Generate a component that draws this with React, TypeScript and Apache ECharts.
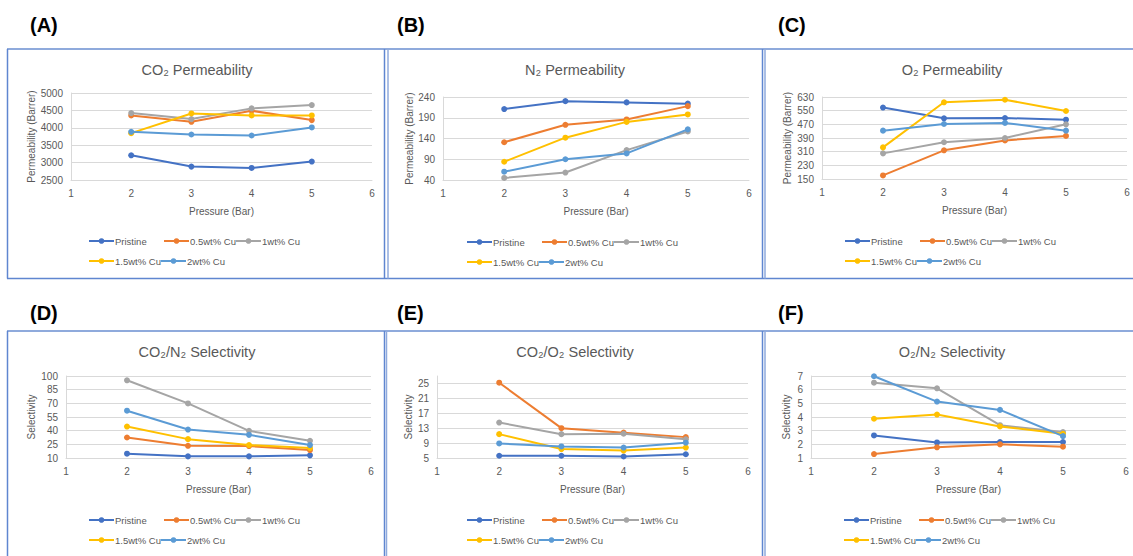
import React, { useEffect, useRef } from "react";
import * as echarts from "echarts";

const seriesNames = ["Pristine", "0.5wt% Cu", "1wt% Cu", "1.5wt% Cu", "2wt% Cu"];
const seriesColors = ["#4472C4", "#ED7D31", "#A5A5A5", "#FFC000", "#5B9BD5"];
const pressures = [2, 3, 4, 5];

const panelLetters = ["(A)", "(B)", "(C)", "(D)", "(E)", "(F)"];
const panelTitles = [
  "CO\u2082 Permeability",
  "N\u2082 Permeability",
  "O\u2082 Permeability",
  "CO\u2082/N\u2082 Selectivity",
  "CO\u2082/O\u2082 Selectivity",
  "O\u2082/N\u2082 Selectivity",
];
const yAxisNames = [
  "Permeability (Barrer)",
  "Permeability (Barrer)",
  "Permeability (Barrer)",
  "Selectivity",
  "Selectivity",
  "Selectivity",
];
const xAxisName = "Pressure (Bar)";
const xMin = 1;
const xMax = 6;
const xInterval = 1;
const yMins = [2500, 40, 150, 10, 5, 1];
const yMaxs = [5000, 240, 630, 100, 27, 7];
const yIntervals = [500, 50, 80, 15, 4, 1];

// series order: Pristine, 0.5wt%, 1wt%, 1.5wt%, 2wt%
const co2Permeability = [
  [3210, 2885, 2846, 3030],
  [4356, 4173, 4490, 4221],
  [4423, 4250, 4558, 4654],
  [3846, 4413, 4356, 4356],
  [3885, 3808, 3779, 4010],
];
const n2Permeability = [
  [211, 230, 227, 224],
  [131, 173, 186, 218],
  [45, 58, 112, 157],
  [84, 142, 180, 198],
  [60, 90, 104, 162],
];
const o2Permeability = [
  [568, 505, 507, 497],
  [171, 318, 376, 402],
  [300, 365, 390, 470],
  [335, 599, 614, 548],
  [433, 472, 478, 433],
];
const co2n2Selectivity = [
  [14.7, 11.8, 11.8, 12.9],
  [32.5, 23.4, 23.1, 18.7],
  [95.3, 69.9, 39.8, 28.9],
  [44.5, 30.7, 24.2, 20.9],
  [61.9, 41.2, 35.4, 24.2],
];
const co2o2Selectivity = [
  [5.6, 5.6, 5.4, 6.0],
  [25.2, 13.0, 11.8, 10.6],
  [14.5, 11.4, 11.5, 10.0],
  [11.4, 7.4, 7.0, 7.8],
  [8.9, 8.1, 7.8, 9.1],
];
const o2n2Selectivity = [
  [2.65, 2.14, 2.17, 2.17],
  [1.29, 1.78, 2.0, 1.83],
  [6.51, 6.1, 3.4, 2.9],
  [3.87, 4.18, 3.31, 2.77],
  [6.98, 5.13, 4.52, 2.6],
];
const panelData = [
  co2Permeability,
  n2Permeability,
  o2Permeability,
  co2n2Selectivity,
  co2o2Selectivity,
  o2n2Selectivity,
];

// ---- layout (pixels) ----
const grids = [
  { left: 71, top: 93, width: 301, height: 87 },
  { left: 443, top: 97, width: 306, height: 83 },
  { left: 822, top: 97, width: 305, height: 82 },
  { left: 66, top: 376, width: 305, height: 82 },
  { left: 437, top: 376, width: 311, height: 82 },
  { left: 811, top: 376, width: 315, height: 82 },
];
const yNameGaps = [35, 29, 30, 30, 23, 20];
const letterPos = [
  [30, 25], [397, 25], [778, 25],
  [30, 313], [397, 313], [778, 313],
];
const titlePos = [
  [197, 70], [575, 70], [952, 70],
  [197, 352], [575, 352], [952, 352],
];
const legendLeft = [88, 466, 844, 88, 466, 843];
const legendRow1 = [242, 243, 242, 521, 521, 521];
const legendRow2 = [262, 263, 262, 541, 541, 541];
const legendColOffset = [0, 75, 147, 0, 72];
const legendRowOf = [0, 0, 0, 1, 1];

const FONT = "'Liberation Sans', Arial, sans-serif";
const TEXT_GRAY = "#595959";
const AXIS_GRAY = "#D9D9D9";

export default function App() {
  const ref = useRef<HTMLDivElement>(null);

  useEffect(() => {
    if (!ref.current) return;
    const chart = echarts.init(ref.current, undefined, { renderer: "svg" });

    const xAxis = grids.map((_, i) => ({
      type: "value",
      gridIndex: i,
      min: xMin,
      max: xMax,
      interval: xInterval,
      name: xAxisName,
      nameLocation: "middle",
      nameGap: 26,
      nameTextStyle: { fontSize: 10, color: TEXT_GRAY, fontFamily: FONT },
      axisLine: { show: true, lineStyle: { color: AXIS_GRAY, width: 1 } },
      axisTick: { show: false },
      splitLine: { show: false },
      axisLabel: { fontSize: 10, color: TEXT_GRAY, fontFamily: FONT, margin: 8 },
    }));

    const yAxis = grids.map((_, i) => {
      const onTick =
        yMaxs[i] === yMins[i] + Math.round((yMaxs[i] - yMins[i]) / yIntervals[i]) * yIntervals[i];
      return {
        type: "value",
        gridIndex: i,
        min: yMins[i],
        max: yMaxs[i],
        interval: yIntervals[i],
        name: yAxisNames[i],
        nameLocation: "middle",
        nameGap: yNameGaps[i],
        nameTextStyle: { fontSize: 10, color: TEXT_GRAY, fontFamily: FONT },
        axisLine: { show: true, lineStyle: { color: AXIS_GRAY, width: 1 } },
        axisTick: { show: false },
        splitLine: {
          show: true,
          showMaxLine: onTick,
          lineStyle: { color: AXIS_GRAY, width: 1 },
        },
        axisLabel: {
          fontSize: 10,
          color: TEXT_GRAY,
          fontFamily: FONT,
          margin: 8,
          showMaxLabel: onTick,
          formatter: (v: number) => String(v),
        },
      };
    });

    const series: any[] = [];
    panelData.forEach((panel, p) => {
      panel.forEach((vals, s) => {
        series.push({
          type: "line",
          name: seriesNames[s],
          xAxisIndex: p,
          yAxisIndex: p,
          data: pressures.map((x, k) => [x, vals[k]]),
          symbol: "circle",
          symbolSize: 6,
          lineStyle: { width: 2, color: seriesColors[s] },
          itemStyle: { color: seriesColors[s] },
          z: 2 + s,
        });
      });
    });

    const legendBase = {
      orient: "horizontal",
      itemWidth: 25,
      itemHeight: 7,
      itemGap: 0,
      padding: 0,
      selectedMode: false,
      textStyle: {
        fontSize: 9.5,
        color: TEXT_GRAY,
        fontFamily: FONT,
        padding: [0, 0, 0, -4],
      },
    };
    const legend: any[] = [];
    grids.forEach((_, i) => {
      seriesNames.forEach((name, s) => {
        const rowY = legendRowOf[s] === 0 ? legendRow1[i] : legendRow2[i];
        legend.push({
          ...legendBase,
          left: legendLeft[i] + legendColOffset[s],
          top: rowY - 6,
          data: [name],
        });
      });
    });

    const borderLight = "#8FAADC";
    const borderDark = "#5F86D0";
    const hLine = (y: number, x1: number, x2: number, c: string, w: number) => ({
      type: "line",
      silent: true,
      shape: { x1, y1: y, x2, y2: y },
      style: { stroke: c, lineWidth: w },
    });
    const vLine = (x: number, y1: number, y2: number, c: string, w: number) => ({
      type: "line",
      silent: true,
      shape: { x1: x, y1, x2: x, y2 },
      style: { stroke: c, lineWidth: w },
    });

    const graphic: any[] = [
      hLine(49, 7, 1133, borderLight, 2),
      hLine(278.5, 7, 1133, borderDark, 1.5),
      vLine(7.5, 49, 278.5, borderDark, 1.5),
      vLine(384.5, 49, 278.5, borderDark, 1.5),
      vLine(388, 49, 278.5, borderLight, 1.5),
      vLine(762.5, 49, 278.5, borderDark, 1.5),
      vLine(765, 49, 278.5, borderLight, 1.5),
      hLine(331, 7, 1133, borderLight, 2),
      vLine(7.5, 331, 556, borderDark, 1.5),
      vLine(384.5, 331, 556, borderDark, 1.5),
      vLine(386.5, 331, 556, borderLight, 1.5),
      vLine(762.5, 331, 556, borderDark, 1.5),
      vLine(765, 331, 556, borderLight, 1.5),
    ];
    panelLetters.forEach((t, i) => {
      graphic.push({
        type: "text",
        silent: true,
        x: letterPos[i][0],
        y: letterPos[i][1],
        style: {
          text: t,
          fontSize: 20,
          fontWeight: "bold",
          fontFamily: FONT,
          fill: "#000000",
          textAlign: "left",
          textVerticalAlign: "middle",
        },
      });
    });
    panelTitles.forEach((t, i) => {
      graphic.push({
        type: "text",
        silent: true,
        x: titlePos[i][0],
        y: titlePos[i][1],
        style: {
          text: t,
          fontSize: 14.5,
          fontFamily: FONT,
          fill: TEXT_GRAY,
          textAlign: "center",
          textVerticalAlign: "middle",
        },
      });
    });

    chart.setOption({
      animation: false,
      backgroundColor: "#ffffff",
      textStyle: { fontFamily: FONT },
      grid: grids.map((g) => ({ ...g, containLabel: false })),
      xAxis,
      yAxis,
      legend,
      series,
      graphic,
    });

    return () => chart.dispose();
  }, []);

  return (
    <div
      ref={ref}
      style={{ position: "fixed", left: 0, top: 0, width: 1133, height: 556, background: "#fff" }}
    />
  );
}
